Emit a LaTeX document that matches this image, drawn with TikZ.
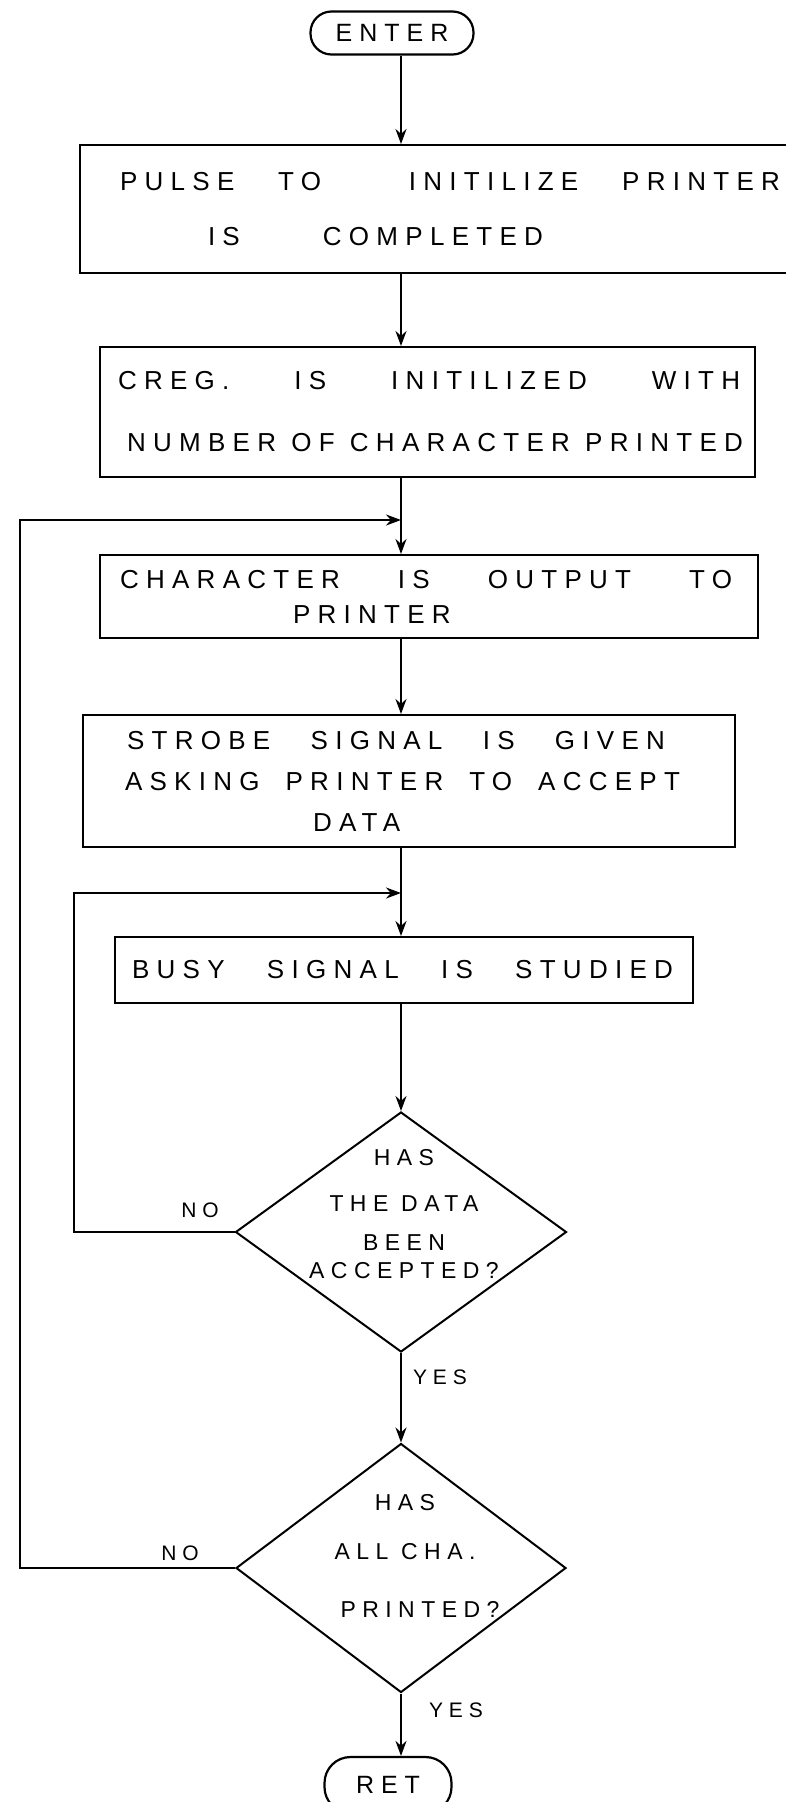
\documentclass[tikz,border=0pt]{standalone}
\usepackage{fontspec}
\newfontfamily\handfont{Liberation Sans}[LetterSpace=28]
\usepackage{tikz}
\usetikzlibrary{arrows.meta,shapes.geometric,positioning}
\newcommand{\stretchline}[2]{\makebox[#1][l]{#2}}

\begin{document}
\begin{tikzpicture}[x=1pt,y=-1pt]

\tikzset{boxnode/.style={draw,line width=2pt,shape=rectangle,inner xsep=0pt,inner ysep=0pt,align=left,font=\handfont\fontsize{26}{36}\selectfont},
endnode/.style={draw,line width=2.2pt,rounded corners=21pt,inner sep=0pt,font=\handfont\fontsize{25}{30}\selectfont},
decnode/.style={draw,line width=2pt,shape=diamond,inner sep=0pt},
dectext/.style={align=center,inner sep=0pt,font=\handfont\fontsize{23}{30}\selectfont},
answer/.style={inner sep=0pt,font=\handfont\fontsize{21}{24}\selectfont},
flow/.style={line width=2pt,-{Stealth[length=15pt,width=11pt]}}}

\path[fill=white,use as bounding box] (0,0) rectangle (785,1802);

% main column
\coordinate (spine) at (401,0);
\coordinate (j1) at (401,520);
\coordinate (j2) at (401,893);
\coordinate (outer) at (20,520);
\coordinate (inner) at (74,893);

% start and end
\node[endnode,minimum width=163pt,minimum height=43pt] (enter) at (392,33) {ENTER};
\node[endnode,minimum width=127pt,minimum height=56pt,rounded corners=26pt] (ret) at (388,1785) {RET};

% process boxes
\node[boxnode,text width=720pt,minimum height=128pt] (pulse) at (440,209) {\hspace*{40pt}\stretchline{660pt}{PULSE\hfill TO\hfill\hfill INITILIZE\hfill PRINTER}\\[19pt]\hspace*{128pt}\stretchline{335pt}{IS\hfill COMPLETED}};
\node[boxnode,text width=655pt,minimum height=130pt] (creg) at (427.5,412) {\hspace*{18pt}\stretchline{622pt}{CREG.\hfill IS\hfill INITILIZED\hfill WITH}\\[26pt]\hspace*{27pt}\stretchline{616pt}{NUMBER\hfill OF\hfill CHARACTER\hfill PRINTED}};
\node[boxnode,text width=658pt,minimum height=83pt] (outchar) at (429,596.5) {\hspace*{20pt}\stretchline{612pt}{CHARACTER\hfill IS\hfill OUTPUT\hfill TO}\\[-1pt]\hspace*{193pt}PRINTER};
\node[boxnode,text width=652pt,minimum height=132pt] (strobe) at (409,781) {\hspace*{44pt}\stretchline{538pt}{STROBE\hfill SIGNAL\hfill IS\hfill GIVEN}\\[5pt]\hspace*{42pt}\stretchline{555pt}{ASKING\hfill PRINTER\hfill TO\hfill ACCEPT}\\[5pt]\hspace*{230pt}DATA};
\node[boxnode,text width=578pt,minimum height=66pt] (busy) at (404,970) {\hspace*{17pt}\stretchline{541pt}{BUSY\hfill SIGNAL\hfill IS\hfill STUDIED}};

% decisions
\node[decnode,minimum width=331pt,minimum height=240pt] (accepted) at (401,1232) {};
\node[dectext] (acceptedtext) at (404,1214) {HAS\\[16pt]THE DATA\\[9pt]BEEN\\[-2pt]ACCEPTED?};
\node[decnode,minimum width=330pt,minimum height=249pt] (allprinted) at (401,1568) {};
\node[dectext] (allprintedtext) at (405,1556) {HAS\\[19pt]ALL CHA.\\[28pt]\hspace*{30pt}PRINTED?};

% answers
\node[answer] (no1) at (200,1210) {NO};
\node[answer] (yes1) at (440,1377) {YES};
\node[answer] (no2) at (180,1553) {NO};
\node[answer] (yes2) at (456,1710) {YES};

% Edges
\draw[flow] (enter.south -| spine) -- (pulse.north -| spine);
\draw[flow] (pulse.south -| spine) -- (creg.north -| spine);
\draw[flow] (creg.south -| spine) -- (outchar.north -| spine);
\draw[flow] (outchar.south -| spine) -- (strobe.north -| spine);
\draw[flow] (strobe.south -| spine) -- (busy.north -| spine);
\draw[flow] (busy.south -| spine) -- (accepted.north);
\draw[flow] (accepted.south) -- (allprinted.north);
\draw[flow] (allprinted.south) -- (allprinted.south |- ret.north);

% loops back
\draw[flow] (accepted.west) -| (inner) -- (j2);
\draw[flow] (allprinted.west) -| (outer) -- (j1);

\end{tikzpicture}
\end{document}
